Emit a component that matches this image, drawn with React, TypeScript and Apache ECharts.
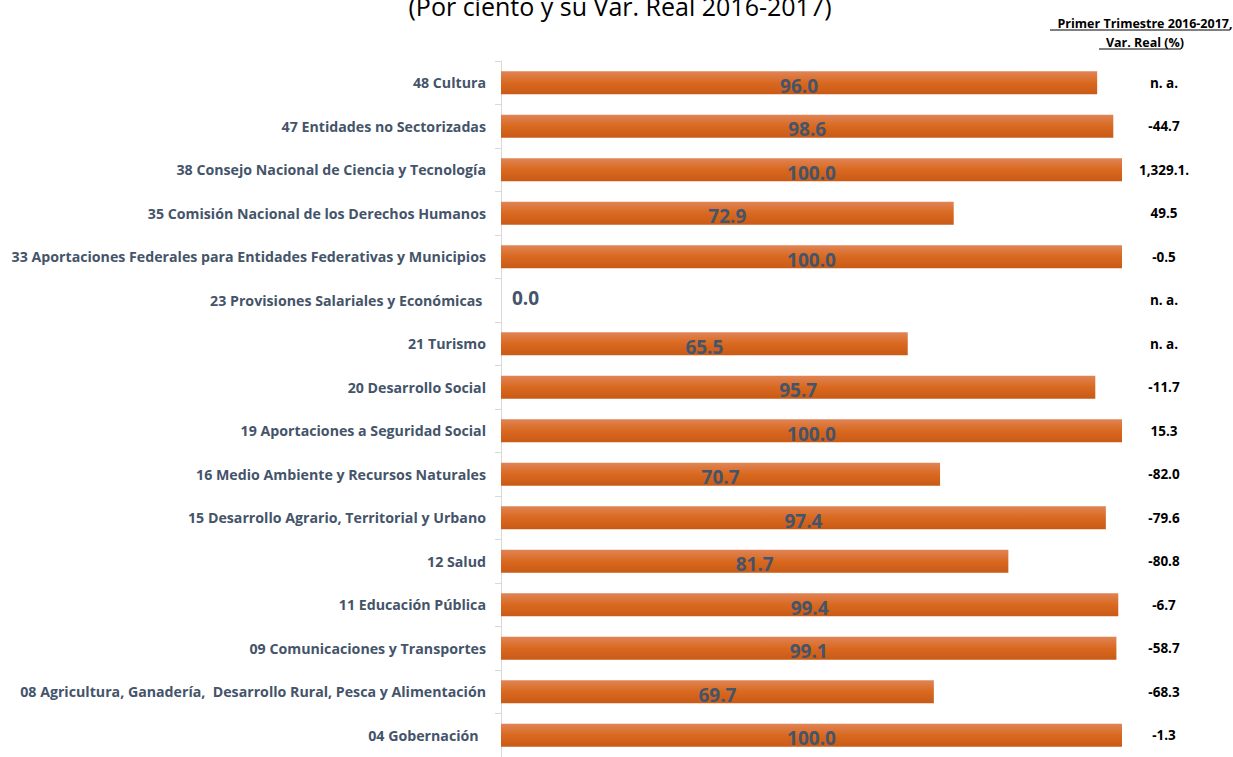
import React, { useEffect, useRef } from "react";
import * as echarts from "echarts";

const categories = [
  "48 Cultura",
  "47 Entidades no Sectorizadas",
  "38 Consejo Nacional de Ciencia y Tecnología",
  "35 Comisión Nacional de los Derechos Humanos",
  "33 Aportaciones Federales para Entidades Federativas y Municipios",
  "23 Provisiones Salariales y Económicas ",
  "21 Turismo",
  "20 Desarrollo Social",
  "19 Aportaciones a Seguridad Social",
  "16 Medio Ambiente y Recursos Naturales",
  "15 Desarrollo Agrario, Territorial y Urbano",
  "12 Salud",
  "11 Educación Pública",
  "09 Comunicaciones y Transportes",
  "08 Agricultura, Ganadería,  Desarrollo Rural, Pesca y Alimentación",
  "04 Gobernación  ",
];

const percentValues = [96.0, 98.6, 100.0, 72.9, 100.0, 0.0, 65.5, 95.7, 100.0, 70.7, 97.4, 81.7, 99.4, 99.1, 69.7, 100.0];

const varReal = ["n. a.", "-44.7", "1,329.1.", "49.5", "-0.5", "n. a.", "n. a.", "-11.7", "15.3", "-82.0", "-79.6", "-80.8", "-6.7", "-58.7", "-68.3", "-1.3"];

const title = "(Por ciento y su Var. Real 2016-2017)";
const headerLines = ["Primer Trimestre 2016-2017,", "Var. Real (%)"];

const FONT = "'Open Sans'";

export default function App() {
  const ref = useRef<HTMLDivElement>(null);
  useEffect(() => {
    if (!ref.current) return;
    const chart = echarts.init(ref.current, null, { renderer: "svg" });
    const barColor = new echarts.graphic.LinearGradient(0, 0, 0, 1, [
      { offset: 0, color: "#E08456" },
      { offset: 0.5, color: "#D9691F" },
      { offset: 1, color: "#C95A17" },
    ]);
    chart.setOption({
      animation: false,
      backgroundColor: "#ffffff",
      title: [
        {
          text: title,
          left: 615,
          textAlign: "center",
          top: -12,
          textStyle: { fontFamily: FONT, fontSize: 25, fontWeight: "normal", color: "#000" },
        },
        {
          text: headerLines.join("\n"),
          left: 1140,
          textAlign: "center",
          top: 9,
          textStyle: { fontFamily: FONT, fontSize: 12.5, fontWeight: "bold", color: "#000", lineHeight: 19 },
        },
      ],
      graphic: [
        { type: "line", shape: { x1: 1050, y1: 30, x2: 1230, y2: 30 }, style: { stroke: "#000", lineWidth: 1 } },
        { type: "line", shape: { x1: 1099, y1: 49, x2: 1181, y2: 49 }, style: { stroke: "#000", lineWidth: 1 } },
      ],
      grid: { left: 501, top: 61, width: 621, height: 701, containLabel: false },
      xAxis: {
        type: "value",
        min: 0,
        max: 100,
        show: false,
      },
      yAxis: [
        {
          type: "category",
          data: categories,
          inverse: true,
          axisLine: { show: true, lineStyle: { color: "#D9D9D9", width: 1 } },
          axisTick: { show: true, length: 6, lineStyle: { color: "#D9D9D9" } },
          axisLabel: {
            margin: 15,
            fontFamily: FONT,
            fontSize: 14.2,
            fontWeight: "bold",
            color: "#44546A",
          },
        },
        {
          type: "category",
          data: varReal,
          inverse: true,
          position: "right",
          axisLine: { show: false },
          axisTick: { show: false },
          axisLabel: {
            margin: 42,
            align: "center",
            fontFamily: FONT,
            fontSize: 13.5,
            fontWeight: "bold",
            color: "#000",
          },
        },
      ],
      series: [
        {
          type: "bar",
          yAxisIndex: 0,
          barWidth: 23,
          data: percentValues.map((v) =>
            v === 0
              ? { value: v, label: { position: "right", distance: 11, offset: [0, -2] } }
              : v
          ),
          itemStyle: { color: barColor },
          label: {
            show: true,
            position: "inside",
            offset: [0, 3],
            formatter: (p: any) => Number(p.value).toFixed(1),
            fontFamily: FONT,
            fontSize: 19,
            fontWeight: "bold",
            color: "#44546A",
          },
        },
      ],
    });
    return () => chart.dispose();
  }, []);
  return (
    <div
      ref={ref}
      style={{ position: "fixed", left: 0, top: 0, width: 1233, height: 757 }}
    />
  );
}
